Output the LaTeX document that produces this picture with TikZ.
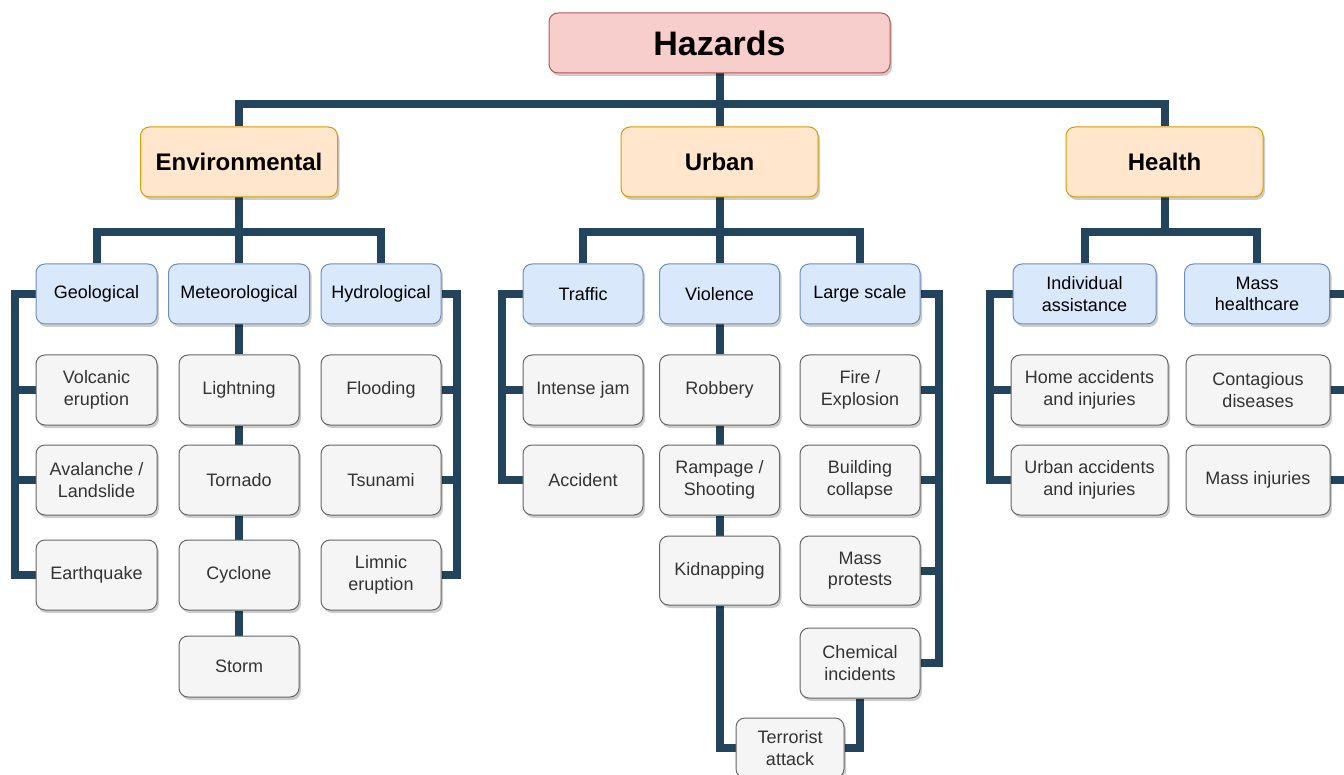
\documentclass[tikz,border=0pt]{standalone}
\usepackage{fontspec}
\setmainfont{Liberation Sans}
\usetikzlibrary{shadows, backgrounds}

\definecolor{hazfill}{HTML}{F8CECC}
\definecolor{hazline}{HTML}{B85450}
\definecolor{topfill}{HTML}{FFE6CC}
\definecolor{topline}{HTML}{D79B00}
\definecolor{subfill}{HTML}{DAE8FC}
\definecolor{subline}{HTML}{6C8EBF}
\definecolor{leaffill}{HTML}{F5F5F5}
\definecolor{leafline}{HTML}{666666}
\definecolor{leaftext}{HTML}{333333}
\definecolor{linkblue}{HTML}{23445D}

\begin{document}
\begin{tikzpicture}[x=1pt, y=-1pt,
    box/.style={draw, rounded corners=9pt, line width=1pt, align=center, inner sep=0pt,
        drop shadow={shadow xshift=2pt, shadow yshift=-3pt, fill=black, opacity=.2}},
    hazbox/.style={box, fill=hazfill, draw=hazline, minimum width=341pt, minimum height=60pt,
        font=\fontsize{34}{40}\selectfont\bfseries},
    topbox/.style={box, fill=topfill, draw=topline, minimum width=197pt, minimum height=70pt,
        font=\fontsize{24}{28}\selectfont\bfseries},
    subbox/.style={box, fill=subfill, draw=subline, minimum width=120pt, minimum height=60pt,
        font=\fontsize{18}{21.6}\selectfont},
    leaf/.style={box, fill=leaffill, draw=leafline, text=leaftext, minimum width=120pt,
        minimum height=70pt, font=\fontsize{18}{21.6}\selectfont},
    link/.style={draw=linkblue, line width=8pt}
]
    \useasboundingbox (0,0) rectangle (1344,775);

    % bus rows and side buses
    \coordinate (row1bus) at (0,104);
    \coordinate (row2bus) at (0,232);
    \coordinate (geobus) at (15,0);
    \coordinate (hydbus) at (457,0);
    \coordinate (trafbus) at (502,0);
    \coordinate (largebus) at (939,0);
    \coordinate (indivbus) at (990,0);
    \coordinate (masshcbus) at (1348,0);

    % root and main groups
    \node[hazbox] (haz) at (719.5,43) {Hazards};
    \node[topbox] (env) at (239,162) {Environmental};
    \node[topbox] (urb) at (719.5,162) {Urban};
    \node[topbox] (hlt) at (1164.5,162) {Health};

    % sub groups
    \node[subbox, minimum width=121pt] (geo) at (96.5,294) {Geological};
    \node[subbox, minimum width=141pt] (met) at (239,294) {Meteorological};
    \node[subbox] (hyd) at (381,294) {Hydrological};
    \node[subbox] (traf) at (583,294) {Traffic};
    \node[subbox] (viol) at (719.5,294) {Violence};
    \node[subbox] (large) at (860,294) {Large scale};
    \node[subbox, minimum width=143pt] (indiv) at (1084.5,294) {Individual\\assistance};
    \node[subbox, minimum width=145pt] (masshc) at (1257,294) {Mass\\healthcare};

    % environmental hazards
    \node[leaf, minimum width=121pt] (volc) at (96.5,390) {Volcanic\\eruption};
    \node[leaf, minimum width=121pt] (aval) at (96.5,480) {Avalanche /\\Landslide};
    \node[leaf, minimum width=121pt] (quake) at (96.5,575) {Earthquake};
    \node[leaf] (light) at (239,390) {Lightning};
    \node[leaf] (torn) at (239,480) {Tornado};
    \node[leaf] (cycl) at (239,575) {Cyclone};
    \node[leaf, minimum height=61pt] (storm) at (239,666.5) {Storm};
    \node[leaf] (flood) at (381,390) {Flooding};
    \node[leaf] (tsun) at (381,480) {Tsunami};
    \node[leaf] (limn) at (381,575) {Limnic\\eruption};

    % urban hazards
    \node[leaf] (jam) at (583,390) {Intense jam};
    \node[leaf] (acc) at (583,480) {Accident};
    \node[leaf] (rob) at (719.5,390) {Robbery};
    \node[leaf] (ramp) at (719.5,480) {Rampage /\\Shooting};
    \node[leaf, minimum height=69pt] (kid) at (719.5,570.5) {Kidnapping};
    \node[leaf] (fire) at (860,390) {Fire /\\Explosion};
    \node[leaf] (build) at (860,480) {Building\\collapse};
    \node[leaf, minimum height=69pt] (prot) at (860,570.5) {Mass\\protests};
    \node[leaf] (chem) at (860,663) {Chemical\\incidents};
    \node[leaf, minimum width=108pt, minimum height=60pt] (terror) at (790,748) {Terrorist\\attack};

    % health hazards
    \node[leaf, minimum width=157pt] (home) at (1089.5,390) {Home accidents\\and injuries};
    \node[leaf, minimum width=157pt] (urbacc) at (1089.5,480) {Urban accidents\\and injuries};
    \node[leaf, minimum width=144pt] (cont) at (1258,390) {Contagious\\diseases};
    \node[leaf, minimum width=144pt] (injur) at (1258,480) {Mass injuries};

    \begin{scope}[on background layer]
        % top level
        \draw[link] (env.north) |- (row1bus -| hlt.north) -- (hlt.north);
        \draw[link] (haz.south) -- (urb.north);

        % second level
        \draw[link] (geo.north) |- (row2bus -| hyd.north) -- (hyd.north);
        \draw[link] (env.south) -- (met.north);
        \draw[link] (traf.north) |- (row2bus -| large.north) -- (large.north);
        \draw[link] (urb.south) -- (viol.north);
        \draw[link] (indiv.north) |- (row2bus -| masshc.north) -- (masshc.north);
        \draw[link] (hlt.south) -- (hlt.south |- row2bus);

        % geological
        \draw[link] (geo.west) -- (geo.west -| geobus) |- (quake.west);
        \draw[link] (volc.west) -- (volc.west -| geobus);
        \draw[link] (aval.west) -- (aval.west -| geobus);

        % meteorological
        \draw[link] (met.south) -- (light.north);
        \draw[link] (light.south) -- (torn.north);
        \draw[link] (torn.south) -- (cycl.north);
        \draw[link] (cycl.south) -- (storm.north);

        % hydrological
        \draw[link] (hyd.east) -- (hyd.east -| hydbus) |- (limn.east);
        \draw[link] (flood.east) -- (flood.east -| hydbus);
        \draw[link] (tsun.east) -- (tsun.east -| hydbus);

        % traffic
        \draw[link] (traf.west) -- (traf.west -| trafbus) |- (acc.west);
        \draw[link] (jam.west) -- (jam.west -| trafbus);

        % violence
        \draw[link] (viol.south) -- (rob.north);
        \draw[link] (rob.south) -- (ramp.north);
        \draw[link] (ramp.south) -- (kid.north);
        \draw[link] (kid.south) |- (terror.west);

        % large scale
        \draw[link] (large.east) -- (large.east -| largebus) |- (chem.east);
        \draw[link] (fire.east) -- (fire.east -| largebus);
        \draw[link] (build.east) -- (build.east -| largebus);
        \draw[link] (prot.east) -- (prot.east -| largebus);
        \draw[link] (chem.south) |- (terror.east);

        % individual assistance
        \draw[link] (indiv.west) -- (indiv.west -| indivbus) |- (urbacc.west);
        \draw[link] (home.west) -- (home.west -| indivbus);

        % mass healthcare
        \draw[link] (masshc.east) -- (masshc.east -| masshcbus) |- (injur.east);
        \draw[link] (cont.east) -- (cont.east -| masshcbus);
    \end{scope}
\end{tikzpicture}
\end{document}
